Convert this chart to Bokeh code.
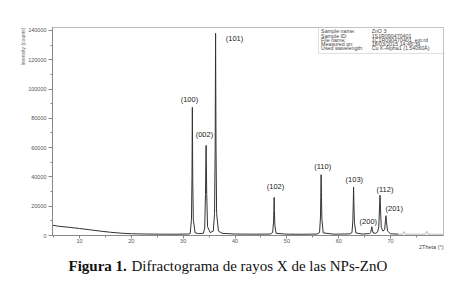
from bokeh.plotting import figure
from bokeh.models import Label, BoxAnnotation, Range1d, FixedTicker, Title
from bokeh.layouts import column
from bokeh.embed import file_html
from bokeh.resources import INLINE

# ---- data ----
two_theta = [4.8, 6, 8, 10, 12, 14, 16, 18, 20, 23, 26, 29, 31.0,
             31.35, 31.6, 31.7, 31.77, 31.84, 31.95, 32.3,
             33.0, 33.9,
             34.15, 34.3, 34.42, 34.54, 34.7, 35.2,
             35.8, 36.05, 36.17, 36.25, 36.33, 36.45, 36.8,
             37.5, 40, 44, 46.8,
             47.25, 47.42, 47.49, 47.54, 47.6, 47.68, 47.9,
             50, 53, 55.8,
             56.3, 56.47, 56.54, 56.6, 56.67, 56.75, 57.0,
             59, 62.1,
             62.55, 62.72, 62.8, 62.86, 62.93, 63.02, 63.3,
             64.5, 65.9,
             66.15, 66.3, 66.38, 66.46, 66.62,
             67.1, 67.5,
             67.72, 67.85, 67.96, 68.05, 68.2,
             68.5,
             68.85, 69.0, 69.1, 69.2, 69.4,
             70.0, 71.5]
intensity = [7000, 6300, 5600, 4800, 3900, 3000, 2200, 1600, 1200, 1000, 900, 900, 1000,
             1300, 11000, 40000, 87500, 40000, 11000, 1800,
             1300, 1500,
             5000, 28000, 61500, 28000, 6000, 2000,
             3000, 15000, 60000, 138000, 60000, 15000, 3000,
             1500, 1000, 900, 1000,
             2000, 9000, 17000, 26000, 17000, 7000, 1500,
             900, 850, 1000,
             2000, 12000, 27000, 41500, 26000, 11000, 1800,
             900, 1100,
             2000, 10000, 22000, 33000, 21000, 9000, 1800,
             1000, 1300,
             2000, 4500, 6000, 4400, 1800,
             1500, 2500,
             6000, 18000, 27500, 18000, 5500,
             3000,
             4000, 10000, 13500, 9500, 3000,
             1200, 900]

tail_theta = [71.5, 72.3, 72.56, 72.8, 76.7, 76.95, 77.2, 80.2]
tail_intensity = [900, 900, 2700, 900, 900, 3000, 900, 800]

peak_labels = ["(100)", "(002)", "(101)", "(102)", "(110)", "(103)", "(200)", "(112)", "(201)"]
peak_label_x = [31.2, 34.1, 39.9, 47.8, 56.9, 63.0, 65.7, 68.9, 70.7]
peak_label_y = [92900, 69000, 134500, 33500, 47100, 38200, 9600, 31400, 18400]

x_ticks = [10, 20, 30, 40, 50, 60, 70]
y_ticks = [0, 20000, 40000, 60000, 80000, 100000, 120000, 140000]

info_keys = ["Sample name:", "Sample ID:", "File name:", "Measured on:", "Used wavelength:"]
info_vals = ["ZnO 3", "1S1R090470401", "1C1R090470401_ext.rd", "18/03/2015 14:46:39",
             "Cu K-Alpha1 (1.54060\u00c5)"]

SANS = "Liberation Sans"
SERIF = "Liberation Serif"

p = figure(width=453, height=257, output_backend="svg", toolbar_location=None,
           x_range=Range1d(4.8, 80.2), y_range=Range1d(0, 142000),
           min_border_left=52, min_border_right=10, min_border_top=27, min_border_bottom=22)
p.grid.visible = False
p.outline_line_color = "#bbbbbb"
p.background_fill_color = "white"
p.border_fill_color = "white"

for ax in (p.xaxis[0], p.yaxis[0]):
    ax.axis_line_color = "#888888"
    ax.major_tick_line_color = "#888888"
    ax.minor_tick_line_color = "#888888"
    ax.major_tick_in = 0
    ax.major_tick_out = 4
    ax.minor_tick_in = 0
    ax.minor_tick_out = 2
    ax.major_label_text_font = SANS
    ax.major_label_text_font_size = "5.5px"
    ax.major_label_text_color = "#555555"

p.xaxis.major_tick_out = 3
p.xaxis.ticker = FixedTicker(ticks=x_ticks, minor_ticks=[5, 15, 25, 35, 45, 55, 65, 75])
p.yaxis.ticker = FixedTicker(ticks=y_ticks, minor_ticks=[10000, 30000, 50000, 70000, 90000, 110000, 130000])
p.xaxis.major_label_standoff = 0
p.yaxis.major_label_standoff = 2
p.yaxis.formatter.use_scientific = False

p.line(two_theta, intensity, line_color="#333333", line_width=1)
p.line(tail_theta, tail_intensity, line_color="#bbbbbb", line_width=1)

for t, x, y in zip(peak_labels, peak_label_x, peak_label_y):
    p.add_layout(Label(x=x, y=y, text=t, text_align="center", text_baseline="middle",
                       text_font=SANS, text_font_size="7.5px", text_color="#222222"))

# info box
p.add_layout(BoxAnnotation(left=56.1, right=80.2, bottom=124300, top=142000,
                           fill_color="white", fill_alpha=1, line_color="#999999", line_width=1))
row_px = [31, 35.2, 39.4, 43.6, 47.8]
for k, v, r in zip(info_keys, info_vals, row_px):
    yy = (235 - r) / 0.0014643
    p.add_layout(Label(x=56.6, y=yy, text=k, text_align="left", text_baseline="middle",
                       text_font=SANS, text_font_size="5.3px", text_color="#444444"))
    p.add_layout(Label(x=66.35, y=yy, text=v, text_align="left", text_baseline="middle",
                       text_font=SANS, text_font_size="5.3px", text_color="#444444"))

# axis titles
p.add_layout(Title(text="Intensity (counts)", align="right", text_font=SANS,
                   text_font_size="5px", text_font_style="normal", text_color="#666666",
                   standoff=-1), "left")
p.add_layout(Title(text="2Theta (\u00b0)", align="right", text_font=SANS,
                   text_font_size="5.5px", text_font_style="normal", text_color="#444444",
                   standoff=-8), "below")

# caption figure (its frame is aligned with the chart's frame: pixels 52..443)
c = figure(width=453, height=32, output_backend="svg", toolbar_location=None,
           x_axis_location=None, y_axis_location=None,
           x_range=Range1d(52, 443), y_range=Range1d(0, 32),
           min_border_left=52, min_border_right=10, min_border_top=0, min_border_bottom=0)
c.grid.visible = False
c.outline_line_color = None
c.add_layout(Label(x=68, y=24, text="Figura 1.", text_align="left", text_baseline="middle",
                   text_font=SERIF, text_font_size="15px", text_font_style="bold", text_color="#111111"))
c.add_layout(Label(x=131, y=24, text="Difractograma de rayos X de las NPs-ZnO",
                   text_align="left", text_baseline="middle",
                   text_font=SERIF, text_font_size="15px", text_color="#111111"))

layout = column(p, c, spacing=0)
open("out.html", "w").write(file_html(layout, INLINE))
